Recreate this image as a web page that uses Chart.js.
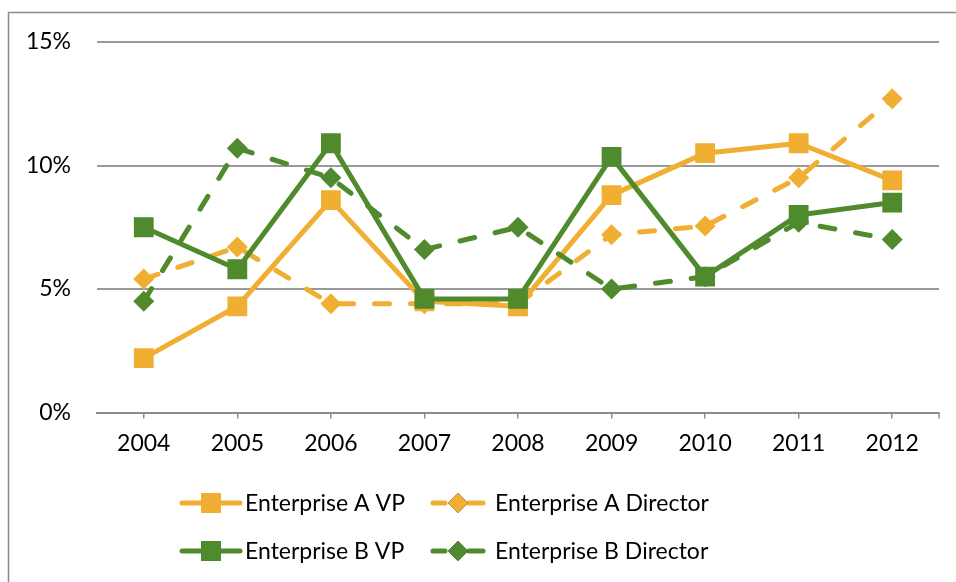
<!DOCTYPE html>
<html>
<head>
<meta charset="utf-8">
<script src="https://cdn.jsdelivr.net/npm/chart.js@4.4.1/dist/chart.umd.min.js"></script>
<style>
  html, body { margin: 0; padding: 0; background: #fff; }
  #wrap { width: 956px; height: 582px; position: relative; }
</style>
</head>
<body>
<div id="wrap"><canvas id="grafico" width="956" height="582"></canvas></div>
<script>
  // Datos del gráfico
  const anios = ['2004', '2005', '2006', '2007', '2008', '2009', '2010', '2011', '2012'];
  const entAVP = [2.2, 4.3, 8.6, 4.5, 4.3, 8.8, 10.5, 10.9, 9.4];
  const entADirector = [5.4, 6.7, 4.4, 4.4, 4.4, 7.2, 7.55, 9.5, 12.7];
  const entBVP = [7.5, 5.8, 10.9, 4.6, 4.6, 10.35, 5.5, 8.0, 8.5];
  const entBDirector = [4.5, 10.7, 9.5, 6.6, 7.5, 5.0, 5.5, 7.7, 7.0];
  const ticksY = [0, 5, 10, 15];

  const naranja = '#F0AE32';
  const verde = '#4F8A2D';
  const fuente = 'Lato, "Open Sans", sans-serif';

  function serie(label, data, color, discontinua, orden) {
      return {
          label: label,
          data: data,
          borderColor: color,
          backgroundColor: color,
          borderWidth: 5,
          borderDash: discontinua ? [15, 21] : [],
          borderCapStyle: 'round',
          borderJoinStyle: 'round',
          pointStyle: discontinua ? 'rectRot' : 'rect',
          pointRadius: discontinua ? 10.5 : 14,
          pointBorderWidth: 0,
          tension: 0,
          order: orden
      };
  }

  // Borde exterior y leyenda a mano (línea + marcador)
  const extras = {
      id: 'extras',
      afterDraw(chart) {
          const c = chart.ctx;
          const area = chart.chartArea;
          c.save();
          c.strokeStyle = '#8a8a8a';
          c.lineWidth = 1.5;
          c.beginPath();
          c.moveTo(8.5, 600);
          c.lineTo(8.5, 12.5);
          c.lineTo(970, 12.5);
          c.stroke();

          // marca final del eje X
          c.strokeStyle = '#8c8c8c';
          c.lineWidth = 1.5;
          c.beginPath();
          c.moveTo(area.right, area.bottom);
          c.lineTo(area.right, area.bottom + 6);
          c.stroke();

          const colX = [182, 433];
          const filaY = [503, 551];
          const textoX = [245, 495];
          chart.data.datasets.forEach((ds, i) => {
              const col = i % 2, fila = Math.floor(i / 2);
              const x0 = colX[col], y = filaY[fila];
              c.strokeStyle = ds.borderColor;
              c.lineWidth = 5;
              c.lineCap = 'round';
              c.setLineDash([]);
              c.beginPath();
              if (ds.borderDash.length) {
                  c.moveTo(x0, y); c.lineTo(x0 + 12, y);
                  c.moveTo(x0 + 36, y); c.lineTo(x0 + 50, y);
                  c.stroke();
                  Chart.helpers.drawPoint(c, {pointStyle: 'rectRot', radius: 10, borderWidth: 0}, x0 + 25, y);
                  c.fillStyle = ds.backgroundColor;
                  c.fill();
              } else {
                  c.moveTo(x0, y); c.lineTo(x0 + 58, y);
                  c.stroke();
                  c.fillStyle = ds.backgroundColor;
                  c.fillRect(x0 + 19, y - 10, 20, 20);
              }
              c.fillStyle = '#000';
              c.font = '23px ' + fuente;
              c.textAlign = 'left';
              c.textBaseline = 'middle';
              c.fillText(ds.label, textoX[col], y + 1);
          });
          c.restore();
      }
  };

  let ctx = document.getElementById('grafico').getContext('2d');
  let grafico = new Chart(ctx, {
      type: 'line',
      data: {
          labels: anios,
          datasets: [
              serie('Enterprise A VP', entAVP, naranja, false, 2),
              serie('Enterprise A Director', entADirector, naranja, true, 3),
              serie('Enterprise B VP', entBVP, verde, false, 0),
              serie('Enterprise B Director', entBDirector, verde, true, 1)
          ]
      },
      options: {
          responsive: false,
          animation: false,
          layout: { padding: { top: 42, right: 17, left: 0, bottom: 0 } },
          plugins: {
              legend: { display: false },
              tooltip: { enabled: false }
          },
          scales: {
              x: {
                  offset: true,
                  grid: {
                      offset: false,
                      drawOnChartArea: false,
                      drawTicks: true,
                      tickLength: 6,
                      color: '#8c8c8c',
                      lineWidth: 1.5
                  },
                  border: { color: '#8c8c8c', width: 2 },
                  ticks: {
                      color: '#000',
                      padding: 11,
                      maxRotation: 0,
                      font: { family: fuente, size: 23 }
                  },
                  afterFit(scale) { scale.height = 582 - 412.5; }
              },
              y: {
                  min: 0,
                  max: 15,
                  afterBuildTicks(scale) { scale.ticks = ticksY.map(v => ({ value: v })); },
                  grid: { drawTicks: false, color: '#9a9a9a', lineWidth: 2 },
                  border: { display: false },
                  ticks: {
                      color: '#000',
                      padding: 26,
                      font: { family: fuente, size: 23 },
                      callback: v => v + '%'
                  },
                  afterFit(scale) { scale.width = 97; }
              }
          }
      },
      plugins: [extras]
  });
</script>
</body>
</html>
